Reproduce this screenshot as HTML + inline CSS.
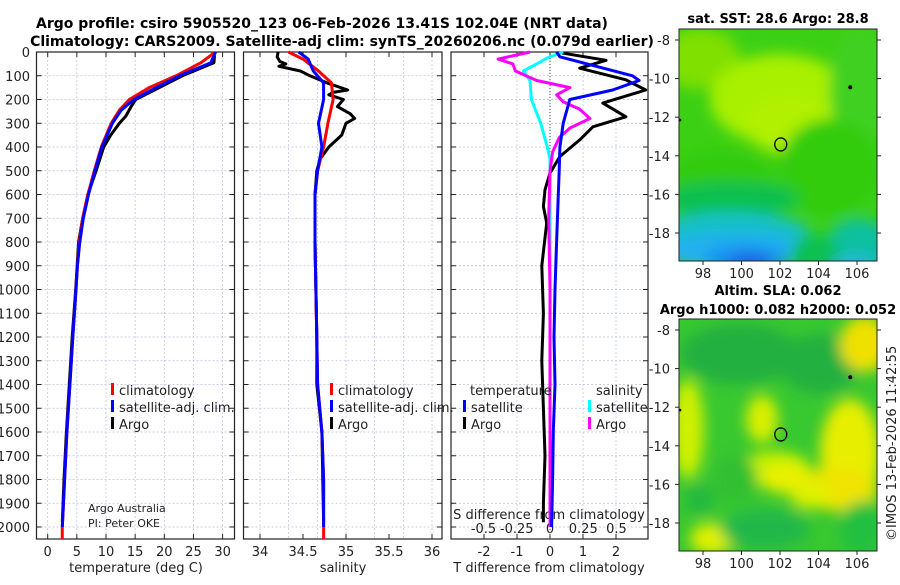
<!DOCTYPE html>
<html><head><meta charset="utf-8"><style>
body{margin:0;background:#fff;width:900px;height:580px;overflow:hidden}
svg text{font-family:"DejaVu Sans","Liberation Sans",sans-serif;fill:#222}
</style></head><body>
<svg id="fig" width="900" height="580" viewBox="0 0 900 580" xmlns="http://www.w3.org/2000/svg">
<text x="322" y="28" font-size="14" font-weight="bold" text-anchor="middle" style="fill:#000">Argo profile: csiro 5905520_123 06-Feb-2026 13.41S 102.04E (NRT data)</text>
<text x="342" y="46" font-size="14" font-weight="bold" text-anchor="middle" style="fill:#000">Climatology: CARS2009. Satellite-adj clim: synTS_20260206.nc (0.079d earlier)</text>
<g id="panels"></g>
<g id="maps"></g>
<text transform="translate(896,541) rotate(-90)" font-size="13">©IMOS 13-Feb-2026 11:42:55</text>
</svg>
<script>
// ---- data (depth in m) ----
const tDepth = [0,10,45,100,150,200,245,300,400,500,600,700,800,900,1000,1200,1400,1600,1800,2000];
const tClim  = [28.5,28.2,26.3,22,17.4,14,12.3,10.9,9.2,8,6.9,6,5.4,5.1,4.86,4.3,3.8,3.3,2.9,2.5];
const tSat   = [28.8,28.6,28.0,22.6,18.6,14.8,12.6,11.1,9.3,8.1,7,6.1,5.5,5.1,4.86,4.3,3.8,3.3,2.9,2.5];
const tArgoDepth=[0,20,45,60,100,150,200,230,270,300,350,400,500,600,700,800,1000,1200,1400,1600,1800,1980];
const tArgo  = [28.5,28.6,28.5,27,23.1,19.1,15.1,14.3,13.4,12.3,10.8,9.6,8.3,6.9,6,5.3,4.8,4.2,3.7,3.2,2.8,2.5];

const sDepth = [0,30,80,130,200,300,400,500,600,800,1000,1200,1400,1600,1800,2000];
const sClim  = [34.33,34.5,34.68,34.83,34.85,34.79,34.74,34.67,34.64,34.64,34.65,34.66,34.67,34.72,34.74,34.74];
const sSat   = [34.45,34.56,34.62,34.74,34.74,34.68,34.72,34.67,34.64,34.64,34.65,34.66,34.67,34.72,34.74,34.74];
const sArgoDepth=[0,20,40,50,60,80,100,130,160,170,180,200,230,260,280,300,350,400,450,500,600,800,1000,1200,1400,1600,1800,1980];
const sArgo  = [34.21,34.2,34.23,34.3,34.22,34.47,34.58,34.78,35.02,34.85,34.8,34.97,34.9,35.05,35.1,35.0,34.95,34.8,34.7,34.66,34.64,34.64,34.65,34.66,34.66,34.72,34.73,34.74];

const dDepth = [0,5,35,68,117,160,215,273,315,370,440,510,580,650,720,900,1100,1300,1500,1700,1900,1980];
const dTArgo = [0.4,0.4,1.7,0.9,2.3,2.9,1.6,2.3,1.3,0.9,0.3,0,-0.15,-0.2,-0.1,-0.25,-0.2,-0.25,-0.2,-0.15,-0.2,-0.2];
const sdDepth = [0,20,60,100,120,160,200,250,300,400,500,600,800,1000,1200,1400,1600,1800,2000];
const dTSat  = [0.2,0.3,1.4,2.5,2.7,1.9,0.6,0.5,0.4,0.3,0.28,0.25,0.2,0.15,0.12,0.15,0.1,0.08,0.05];
const dSArgoDepth=[0,30,50,80,120,150,180,210,240,280,320,360,420,500,700,1000,1500,2000];
const dSArgo = [-0.15,-0.39,-0.28,-0.26,-0.1,0.15,0.05,0.1,0.22,0.3,0.15,0.07,0.02,0,-0.01,0,0,0];
const dSSatDepth=[0,25,50,80,120,200,300,400,450,700,1000,1500,2000];
const dSSat  = [0.1,-0.02,-0.1,-0.2,-0.15,-0.14,-0.07,-0.02,0,0,0,0,0];

const depthTicks=[0,100,200,300,400,500,600,700,800,900,1000,1100,1200,1300,1400,1500,1600,1700,1800,1900,2000];
const tTicks=[0,5,10,15,20,25,30];
const sTicks=[34,34.5,35,35.5,36];
const dTTicks=[-2,-1,0,1,2];
const dSTicks=["-0.5","-0.25","0","0.25","0.5"];
const latTicks=[-8,-10,-12,-14,-16,-18];
const lonTicks=[98,100,102,104,106];

// ---- axes ----
const NS='http://www.w3.org/2000/svg';
const Y=d=>52+d*0.2375;
const xT=v=>47.7+v*5.83;
const xS=v=>260+(v-34)*86;
const xDT=v=>550+v*33;
const xDS=v=>550+v*133;
function mk(tag,at,parent){const e=document.createElementNS(NS,tag);for(const k in at)e.setAttribute(k,at[k]);parent.appendChild(e);return e;}
const P=document.getElementById('panels');
const panels=[{x0:36.5,x1:234.5,name:'temperature-panel'},{x0:243.5,x1:442,name:'salinity-panel'},{x0:451,x1:648,name:'difference-panel'}];
const bottomY=539;
panels.forEach((p,i)=>{
  const g=mk('g',{},P);
  
  
  depthTicks.forEach(d=>{const l=mk('line',{x1:p.x0,x2:p.x1,y1:Y(d),y2:Y(d),stroke:'#b8bfe0','stroke-width':0.7,'stroke-dasharray':'2,2'},g);
    
    mk('line',{x1:p.x0,x2:p.x0+5,y1:Y(d),y2:Y(d),stroke:'#222'},g);mk('line',{x1:p.x1,x2:p.x1-5,y1:Y(d),y2:Y(d),stroke:'#222'},g);});
  let xs=[];
  if(i===0)xs=tTicks.map(xT);
  if(i===1)for(let v=34;v<=36.01;v+=1/3)xs.push(xS(v));
  if(i===2)xs=dTTicks.map(xDT);
  xs.forEach(x=>{const l=mk('line',{x1:x,x2:x,y1:52,y2:bottomY,stroke:'#b8bfe0','stroke-width':0.7,'stroke-dasharray':'2,2'},g);
    });
  const tx=i===0?tTicks.map(xT):i===1?sTicks.map(xS):dTTicks.map(xDT);
  tx.forEach(x=>{mk('line',{x1:x,x2:x,y1:bottomY,y2:bottomY-5,stroke:'#222'},g);mk('line',{x1:x,x2:x,y1:52,y2:57,stroke:'#222'},g);});
  const r=mk('rect',{x:p.x0,y:52,width:p.x1-p.x0,height:bottomY-52,fill:'none',stroke:'#222','stroke-width':1.2},g);
  
});
depthTicks.forEach(d=>{const t=mk('text',{x:30,y:Y(d)+5,'font-size':13,'text-anchor':'end'},P);t.textContent=d;
  });
function xl(arr,fx){arr.forEach(v=>{const t=mk('text',{x:fx(+v),y:556,'font-size':13,'text-anchor':'middle'},P);t.textContent=v;
  });}
xl(tTicks,xT);xl(sTicks,xS);xl(dTTicks,xDT);
dSTicks.forEach(v=>{const t=mk('text',{x:xDS(+v),y:533,'font-size':13,'text-anchor':'middle'},P);t.textContent=v;
  });
function lbl(x,y,s,name,anchor){const t=mk('text',{x:x,y:y,'font-size':13,'text-anchor':anchor||'middle'},P);t.textContent=s;return t;}
lbl(136,572,'temperature (deg C)','x-axis-title-temperature');
lbl(343,572,'salinity','x-axis-title-salinity');
lbl(549,572,'T difference from climatology','x-axis-title-t-diff');
lbl(549,519,'S difference from climatology','s-diff-axis-title');
lbl(88,512,'Argo Australia','credit-line-1','start').setAttribute('font-size','11');
lbl(88,527,'PI: Peter OKE','credit-line-2','start').setAttribute('font-size','11');

function line(fx,depths,vals,color,name,w){
  const pts=depths.map((d,k)=>fx(vals[k]).toFixed(1)+','+Y(d).toFixed(1)).join(' ');
  const e=mk('polyline',{points:pts,fill:'none',stroke:color,'stroke-width':w||3,'stroke-linejoin':'round'},P);
  
}
mk('line',{x1:xT(2.5),x2:xT(2.5),y1:Y(2000),y2:bottomY,stroke:'#f00','stroke-width':3},P);
mk('line',{x1:xS(34.74),x2:xS(34.74),y1:Y(2000),y2:bottomY,stroke:'#f00','stroke-width':3},P);
line(xT,tArgoDepth,tArgo,'#000','temperature-argo-line');
line(xT,tDepth,tClim,'#f00','temperature-climatology-line');
line(xT,tDepth,tSat,'#00f','temperature-satellite-line');
line(xS,sArgoDepth,sArgo,'#000','salinity-argo-line');
line(xS,sDepth,sClim,'#f00','salinity-climatology-line');
line(xS,sDepth,sSat,'#00f','salinity-satellite-line');
mk('line',{x1:550,x2:550,y1:52,y2:bottomY,stroke:'#444','stroke-dasharray':'1,2'},P);
line(xDT,dDepth,dTArgo,'#000','t-diff-argo-line');
line(xDS,dSSatDepth,dSSat,'#0ff','s-diff-satellite-line');
line(xDS,dSArgoDepth,dSArgo,'#f0f','s-diff-argo-line');
line(xDT,sdDepth,dTSat,'#00f','t-diff-satellite-line');

function leg(x,y,color,s,name){mk('rect',{x:x,y:y-8,width:3,height:12,fill:color},P);lbl(x+8,y+4,s,name,'start');}
leg(111,391,'#f00','climatology','legend-climatology');
leg(111,408,'#00f','satellite-adj. clim.','legend-satellite');
leg(111,425,'#000','Argo','legend-argo');
leg(330,391,'#f00','climatology','legend-climatology-s');
leg(330,408,'#00f','satellite-adj. clim.','legend-satellite-s');
leg(330,425,'#000','Argo','legend-argo-s');
lbl(470,395,'temperature','legend-title-temperature','start');
lbl(596,395,'salinity','legend-title-salinity','start');
leg(463,408,'#00f','satellite','legend-t-satellite');
leg(463,425,'#000','Argo','legend-t-argo');
leg(588,408,'#0ff','satellite','legend-s-satellite');
leg(588,425,'#f0f','Argo','legend-s-argo');

// ---- maps ----
const M=document.getElementById('maps');
const lonX=v=>703+(v-98)*19.25;
function drawMap(top,bot,lat8,title1,title2,blobs,base,name){
  const g=mk('g',{},M);
  const id='clip'+name;const cp=mk('clipPath',{id:id},g);mk('rect',{x:679,y:top,width:198,height:bot-top},cp);
  const fid='blur'+name;const f=mk('filter',{id:fid,x:'-50%',y:'-50%',width:'200%',height:'200%'},g);mk('feGaussianBlur',{stdDeviation:7},f);
  const inner=mk('g',{'clip-path':'url(#'+id+')'},g);
  mk('rect',{x:679,y:top,width:198,height:bot-top,fill:base},inner);
  const bg=mk('g',{filter:'url(#'+fid+')'},inner);
  blobs.forEach(b=>mk('ellipse',{cx:b[0],cy:top+b[1],rx:b[2],ry:b[3],fill:b[4]},bg));
  const latY=v=>lat8+(-8-v)*19.3;
  const c=mk('ellipse',{cx:lonX(102.04),cy:latY(-13.41),rx:6,ry:6.5,fill:'none',stroke:'#000','stroke-width':1.3},g);
  
  mk('circle',{cx:lonX(105.65),cy:latY(-10.45),r:2,fill:'#000'},g);
  mk('circle',{cx:680,cy:latY(-12.15),r:1.3,fill:'#000'},g);
  mk('rect',{x:679,y:top,width:198,height:bot-top,fill:'none',stroke:'#222'},g);
  latTicks.forEach(v=>{const y=latY(v);mk('line',{x1:679,x2:675,y1:y,y2:y,stroke:'#222'},g);mk('line',{x1:877,x2:881,y1:y,y2:y,stroke:'#222'},g);
    const t=mk('text',{x:670,y:y+5,'font-size':13,'text-anchor':'end'},g);t.textContent=v;});
  lonTicks.forEach(v=>{const x=lonX(v);mk('line',{x1:x,x2:x,y1:bot,y2:bot+4,stroke:'#222'},g);
    const t=mk('text',{x:x,y:bot+17,'font-size':13,'text-anchor':'middle'},g);t.textContent=v;});
  if(title2){const t=mk('text',{x:778,y:top-24,'font-size':13,'font-weight':'bold','text-anchor':'middle',style:'fill:#000'},g);t.textContent=title1;
    const t2=mk('text',{x:778,y:top-5,'font-size':13,'font-weight':'bold','text-anchor':'middle',style:'fill:#000'},g);t2.textContent=title2;}
  else{const t=mk('text',{x:778,y:top-6,'font-size':13,'font-weight':'bold','text-anchor':'middle',style:'fill:#000'},g);t.textContent=title1;}
}
drawMap(29,261,40,'sat. SST: 28.6 Argo: 28.8',null,[
  [700,30,40,30,'#80e000'],[780,70,70,45,'#a8f000'],[790,95,45,30,'#b0f000'],[860,60,30,60,'#40d020'],
  [720,150,55,30,'#30cc10'],[830,140,50,50,'#30cc10'],[730,170,70,18,'#10c050'],
  [730,205,80,22,'#18c0c8'],[735,222,75,18,'#20b0f0'],[745,230,40,14,'#1890f0'],[750,235,22,10,'#2060e0'],
  [860,220,35,30,'#10c0a0'],[815,230,25,25,'#10c050'],[855,240,25,15,'#20b8d8']
],'#3cd015','sst-map');
drawMap(319,551,330,'Altim. SLA: 0.062','Argo h1000: 0.082 h2000: 0.052',[
  [740,35,60,30,'#20b040'],[820,45,40,30,'#20b040'],[865,25,25,28,'#f0e000'],[688,110,16,50,'#d0f000'],
  [762,100,16,24,'#d8f000'],[775,150,35,18,'#c8f000'],[790,160,30,15,'#e8f000'],[850,135,30,55,'#e8ee00'],[840,170,38,22,'#f0e400'],[810,175,20,15,'#e0f000'],
  [712,220,22,16,'#e0f000'],[735,160,22,25,'#30c030'],[765,210,45,20,'#20b848'],[862,210,22,28,'#20c040'],[700,180,14,15,'#20b840']
],'#38c830','sla-map');
</script>
</body></html>
